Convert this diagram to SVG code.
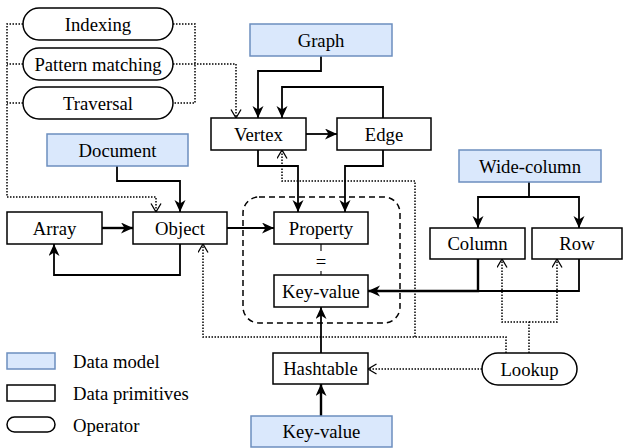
<svg xmlns="http://www.w3.org/2000/svg" width="624" height="448" viewBox="0 0 624 448" font-family="'Liberation Serif', 'Times New Roman', Times, serif">
  <style>
    text { font-family: "Liberation Serif", "Times New Roman", Times, serif; font-size: 18.7px; fill: #000; }
    .lbl { text-anchor: middle; dominant-baseline: central; }
    .leg { text-anchor: start; dominant-baseline: central; }
    .prim { fill: #fff; stroke: #000; stroke-width: 1.5; }
    .model { fill: #dae8fc; stroke: #6c8ebf; stroke-width: 1.5; }
    .op { fill: #fff; stroke: #000; stroke-width: 1.5; }
    .edge { fill: none; stroke: #000; stroke-width: 1.8; }
    .thick { fill: none; stroke: #000; stroke-width: 2.4; }
    .thin { fill: none; stroke: #000; stroke-width: 1.1; }
    .dot { fill: none; stroke: #000; stroke-width: 1.5; stroke-dasharray: 1.5 1.5; }
    .group { fill: none; stroke: #000; stroke-width: 1.5; stroke-dasharray: 6 4; }
  </style>
  <defs>
    <marker id="arrow" markerUnits="userSpaceOnUse" markerWidth="14" markerHeight="12" refX="12" refY="5.5" orient="auto">
      <path d="M0,0 L12,5.5 L0,11 L3.5,5.5 Z" fill="#000"/>
    </marker>
    <marker id="open" markerUnits="userSpaceOnUse" markerWidth="12" markerHeight="12" refX="9" refY="5.5" orient="auto">
      <path d="M0.5,0.5 L9,5.5 L0.5,10.5" fill="none" stroke="#000" stroke-width="1.3"/>
    </marker>
  </defs>

  <!-- dashed grouping of property / key-value -->
  <rect class="group" x="243" y="197" width="157" height="126" rx="16"/>

  <g id="connectors">
    <!-- graph model -->
    <path class="edge" d="M321,56 V71 H258 V118" marker-end="url(#arrow)"/>
    <path class="edge" d="M383,118 V87 H282 V118" marker-end="url(#arrow)"/>
    <path class="edge" d="M306,134 H337" marker-end="url(#arrow)"/>
    <path class="edge" d="M258,150 V166 H298 V212" marker-end="url(#arrow)"/>
    <path class="edge" d="M383,150 V166 H345 V212" marker-end="url(#arrow)"/>
    <!-- document model -->
    <path class="edge" d="M117,166 V181 H180 V212" marker-end="url(#arrow)"/>
    <path class="thick" d="M102,228 H133" marker-end="url(#arrow)"/>
    <path class="edge" d="M180,244 V275 H54 V244" marker-end="url(#arrow)"/>
    <path class="edge" d="M227,228 H274" marker-end="url(#arrow)"/>
    <!-- property equals key-value -->
    <path class="thin" d="M321,244 V251 M321,271 V275"/>
    <text class="lbl" x="321" y="261">=</text>
    <!-- wide-column model -->
    <path class="edge" d="M529,182 V197 H478 V228" marker-end="url(#arrow)"/>
    <path class="edge" d="M529,197 H579 V228" marker-end="url(#arrow)"/>
    <path class="edge" d="M579,259 V291 H478"/>
    <path class="thick" d="M478,259 V291 H368" marker-end="url(#arrow)"/>
    <!-- key-value model -->
    <path class="thick" d="M321,416 V384" marker-end="url(#arrow)"/>
    <path class="edge" d="M321,353 V307" marker-end="url(#arrow)"/>
    <!-- operators -->
    <path class="dot" d="M23,24 H7 V197 H156 V212" marker-end="url(#open)"/>
    <path class="dot" d="M23,64 H7 M23,103 H7"/>
    <path class="dot" d="M173,24 H195 V103 H173"/>
    <path class="dot" d="M173,64 H236 V118" marker-end="url(#open)"/>
    <path class="dot" d="M506,353 V337 H203 V244" marker-end="url(#open)"/>
    <path class="dot" d="M415,337 V181 H282 V150" marker-end="url(#open)"/>
    <path class="dot" d="M529,353 V322 H502 V259" marker-end="url(#open)"/>
    <path class="dot" d="M529,322 H557 V259" marker-end="url(#open)"/>
    <path class="dot" d="M482,369 H368" marker-end="url(#open)"/>
  </g>

  <g id="indexing"><rect class="op" x="23" y="8" width="150" height="32" rx="16"/><text class="lbl" x="98" y="24">Indexing</text></g>
  <g id="pattern-matching"><rect class="op" x="23" y="48" width="150" height="32" rx="16"/><text class="lbl" x="98" y="64">Pattern matching</text></g>
  <g id="traversal"><rect class="op" x="23" y="87" width="150" height="32" rx="16"/><text class="lbl" x="98" y="103">Traversal</text></g>

  <g id="graph"><rect class="model" x="250" y="24" width="142" height="32"/><text class="lbl" x="321" y="40">Graph</text></g>
  <g id="vertex"><rect class="prim" x="211" y="118" width="95" height="32"/><text class="lbl" x="258.5" y="134">Vertex</text></g>
  <g id="edge"><rect class="prim" x="337" y="118" width="94" height="32"/><text class="lbl" x="384" y="134">Edge</text></g>

  <g id="document"><rect class="model" x="47" y="134" width="141" height="32"/><text class="lbl" x="117.5" y="150">Document</text></g>
  <g id="array"><rect class="prim" x="7" y="212" width="95" height="32"/><text class="lbl" x="54.5" y="228">Array</text></g>
  <g id="object"><rect class="prim" x="133" y="212" width="94" height="32"/><text class="lbl" x="180" y="228">Object</text></g>

  <g id="property"><rect class="prim" x="274" y="212" width="94" height="32"/><text class="lbl" x="321" y="228">Property</text></g>
  <g id="key-value-primitive"><rect class="prim" x="274" y="275" width="94" height="32"/><text class="lbl" x="321" y="291">Key-value</text></g>

  <g id="wide-column"><rect class="model" x="459" y="150" width="142" height="32"/><text class="lbl" x="530" y="166">Wide-column</text></g>
  <g id="column"><rect class="prim" x="430" y="228" width="95" height="31"/><text class="lbl" x="477.5" y="243.5">Column</text></g>
  <g id="row"><rect class="prim" x="532" y="228" width="90" height="31"/><text class="lbl" x="577" y="243.5">Row</text></g>

  <g id="hashtable"><rect class="prim" x="273" y="353" width="95" height="31"/><text class="lbl" x="320.5" y="368.5">Hashtable</text></g>
  <g id="key-value-model"><rect class="model" x="251" y="416" width="141" height="31"/><text class="lbl" x="321.5" y="431.5">Key-value</text></g>
  <g id="lookup"><rect class="op" x="482" y="353" width="95" height="32" rx="16"/><text class="lbl" x="529.5" y="369">Lookup</text></g>

  <g id="legend">
    <rect class="model" x="7" y="353" width="48" height="16"/>
    <text class="leg" x="73" y="361">Data model</text>
    <rect class="prim" x="7" y="385" width="48" height="16"/>
    <text class="leg" x="73" y="393">Data primitives</text>
    <rect class="op" x="7" y="417" width="48" height="15" rx="7.5"/>
    <text class="leg" x="73" y="425">Operator</text>
  </g>
</svg>
